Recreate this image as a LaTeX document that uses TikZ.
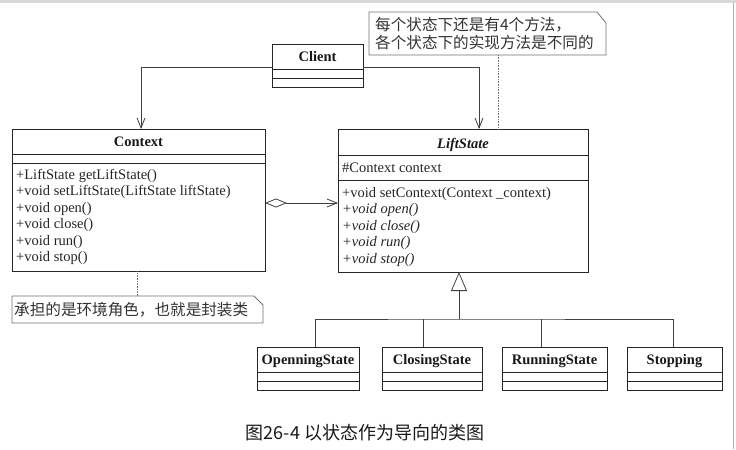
\documentclass[tikz,border=0pt]{standalone}
\usepackage{fontspec}
\setmainfont{Liberation Serif}
\newfontfamily\cjk{Noto Sans CJK SC}
\usetikzlibrary{arrows.meta}
\begin{document}
\begin{tikzpicture}[x=1pt,y=-1pt,
  box/.style={draw=black!85, line width=0.9pt, inner sep=0pt, outer sep=0pt},
  sepline/.style={draw=black!85, line width=0.9pt},
  ttl/.style={font=\fontsize{14.5}{16.5}\selectfont\bfseries, anchor=base, inner sep=0pt, text=black!90},
  mtext/.style={font=\fontsize{14.5}{16.5}\selectfont, anchor=base west, inner sep=0pt, text=black!85},
  link/.style={draw=black!75, line width=0.8pt},
  openv/.style={-{Straight Barb[length=10pt,width=8pt]}},
  notebox/.style={inner sep=0pt, outer sep=0pt},
  noteline/.style={draw=black!55, line width=0.8pt},
  notetext/.style={font=\cjk\fontsize{15.6}{18}\selectfont, anchor=base west, inner sep=0pt, text=black!80},
  dots/.style={draw=black!55, line width=0.6pt, densely dotted}
]
\fill[white] (0,0) rectangle (736,449);
\fill[black!15] (0,0) rectangle (736,3);
\draw[black!30, line width=1pt] (733.5,3) -- (733.5,449);
\useasboundingbox (0,0) rectangle (736,449);

% Client
\node[box, minimum width=91pt, minimum height=43pt] (cl) at (317.5,65.5) {};
\draw[sepline] (272,69) -- (363,69);
\draw[sepline] (272,78) -- (363,78);
\node[ttl] (clt) at (317.5,62) {Client};

% Context
\node[box, minimum width=253pt, minimum height=142pt] (ctx) at (138.5,200) {};
\draw[sepline] (12,154) -- (265,154);
\draw[sepline] (12,163) -- (265,163);
\node[ttl] (ctxt) at (138.5,146.5) {Context};
\foreach \t [count=\i] in {{+LiftState getLiftState()},{+void setLiftState(LiftState liftState)},{+void open()},{+void close()},{+void run()},{+void stop()}}
  \node[mtext] (cm\i) at (16,162.5+16.5*\i) {\t};

% LiftState
\node[box, minimum width=250pt, minimum height=143pt] (ls) at (463,200.5) {};
\draw[sepline] (338,155) -- (588,155);
\draw[sepline] (338,180) -- (588,180);
\node[ttl, font=\fontsize{14.5}{16.5}\selectfont\bfseries\itshape] (lst) at (463,148) {LiftState};
\node[mtext] (la1) at (342,172.5) {\#Context context};
\foreach \t [count=\i] in {{+void setContext(Context \_context)},{\textit{+void open()}},{\textit{+void close()}},{\textit{+void run()}},{\textit{+void stop()}}}
  \node[mtext] (lm\i) at (342,180.5+16.5*\i) {\t};

% Subclasses
\node[box, minimum width=102pt, minimum height=43pt] (s1) at (308,368.5) {};
\node[box, minimum width=100pt, minimum height=43pt] (s2) at (432,368.5) {};
\node[box, minimum width=105pt, minimum height=43pt] (s3) at (554.5,368.5) {};
\node[box, minimum width=95pt, minimum height=43pt] (s4) at (674.5,368.5) {};
\draw[sepline] (257,372) -- (359,372) (257,381) -- (359,381);
\draw[sepline] (382,372) -- (482,372) (382,381) -- (482,381);
\draw[sepline] (502,372) -- (607,372) (502,381) -- (607,381);
\draw[sepline] (627,372) -- (722,372) (627,381) -- (722,381);
\node[ttl] (s1t) at (308,364) {OpenningState};
\node[ttl] (s2t) at (432,364) {ClosingState};
\node[ttl] (s3t) at (554.5,364) {RunningState};
\node[ttl] (s4t) at (674.5,364) {Stopping};

% Notes
\node[notebox, minimum width=237pt, minimum height=43pt] (n1) at (487.5,33.5) {};
\draw[noteline] (n1.north west) -- ([xshift=-9pt]n1.north east) -- ([yshift=-11pt]n1.north east) -- (n1.south east) -- (n1.south west) -- cycle;
\node[notetext] (n1a) at (375,30.5) {每个状态下还是有4个方法，};
\node[notetext] (n1b) at (375,48.5) {各个状态下的实现方法是不同的};

\node[notebox, minimum width=251pt, minimum height=27pt] (n2) at (137.5,309.5) {};
\draw[noteline] (n2.north west) -- ([xshift=-9pt]n2.north east) -- ([yshift=-9pt]n2.north east) -- (n2.south east) -- (n2.south west) -- cycle;
\node[notetext] (n2a) at (14,315.5) {承担的是环境角色，也就是封装类};

\draw[dots] ([xshift=10.5pt]n1.south) -- ([xshift=10.5pt]n1.south |- ls.north);
\draw[dots] (n2.north) -- (n2.north |- ctx.south);

% Connectors
\draw[link, openv] ([yshift=-1.5pt]cl.west) -| ([xshift=2.5pt]ctx.north);
\draw[link, openv] ([yshift=-1.5pt]cl.east) -| ([xshift=16pt]ls.north);
\draw[link, {Diamond[open,length=22pt,width=9pt]}-{Straight Barb[length=10pt,width=8pt]}] ([yshift=-3pt]ctx.east) -- ([yshift=-3pt]ctx.east -| ls.west);

\coordinate (bus) at (459,319);
\draw[link, -{Triangle[open,length=19pt,width=16pt]}] (bus) -- (bus |- ls.south);
\draw[link] ([xshift=7pt]s1.north) |- (bus) -| ([xshift=-1.5pt]s4.north);
\draw[link] ([xshift=-9pt]s2.north) -- ([xshift=-9pt]s2.north |- bus);
\draw[link] ([xshift=-13.5pt]s3.north) -- ([xshift=-13.5pt]s3.north |- bus);

% Caption
\node[font=\cjk\fontsize{18}{21}\selectfont, anchor=base, inner sep=0pt, text=black!90] (cap) at (365,439) {图26-4 以状态作为导向的类图};
\end{tikzpicture}
\end{document}
